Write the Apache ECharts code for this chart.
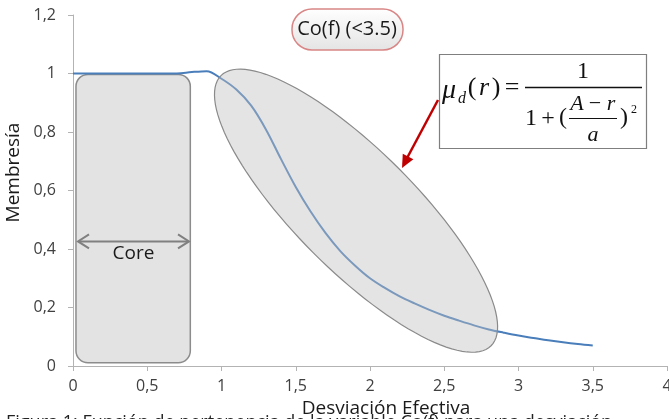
<!DOCTYPE html>
<html>
<head>
<meta charset="utf-8">
<script src="https://cdn.jsdelivr.net/npm/echarts@6/dist/echarts.min.js"></script>
<style>
  html, body { margin: 0; padding: 0; background: #fff; }
  #chart { width: 669px; height: 419px; }
</style>
</head>
<body>
<div id="chart"></div>
<script>
// values
const desviacion = [0, 0.1, 0.2, 0.3, 0.4, 0.5, 0.6, 0.7, 0.8, 0.9, 1.0, 1.1, 1.2, 1.3, 1.4, 1.5, 1.6, 1.7, 1.8, 1.9, 2.0,
  2.1, 2.2, 2.3, 2.4, 2.5, 2.6, 2.7, 2.8, 2.9, 3.0, 3.1, 3.2, 3.3, 3.4, 3.5];
const membresia = [1, 1, 1, 1, 1, 1, 1, 1, 1.005, 1.008, 0.982, 0.945, 0.89, 0.808, 0.708, 0.612, 0.528, 0.455, 0.393, 0.343, 0.30,
  0.267, 0.238, 0.214, 0.192, 0.172, 0.155, 0.139, 0.125, 0.114, 0.104, 0.096, 0.088, 0.081, 0.075, 0.07];
const xTicks = [0, 4, 0.5];     // min, max, step
const yTicks = [0, 1.2, 0.2];
// annotation anchors in data units
const coreBox = [0.02, 0.997, 0.79, 0.011];
const coreArrow = [0.027, 0.788, 0.426];
const ellipseCenter = [1.906, 0.531];

const labelFont = '"Open Sans", "Noto Sans", sans-serif';
const mathFont = '"Liberation Serif", "DejaVu Serif", serif';
const fmt = v => String(Math.round(v * 10) / 10).replace('.', ',');

const chart = echarts.init(document.getElementById('chart'));

chart.setOption({
  animation: false,
  grid: { left: 73, right: 2, top: 15, bottom: 53, outerBoundsMode: 'none' },
  xAxis: {
    type: 'value',
    min: xTicks[0], max: xTicks[1], interval: xTicks[2],
    name: 'Desviación Efectiva',
    nameLocation: 'middle',
    nameGap: 25,
    nameTextStyle: { fontFamily: labelFont, fontSize: 19, color: '#1a1a1a', padding: [0, 0, 0, 32] },
    axisLine: { lineStyle: { color: '#b3b3b3', width: 1 } },
    axisTick: { show: true, length: 5, lineStyle: { color: '#b3b3b3' } },
    axisLabel: { fontFamily: labelFont, fontSize: 16, color: '#404040', margin: 12, formatter: fmt, showMaxLabel: true, showMinLabel: true },
    splitLine: { show: false }
  },
  yAxis: {
    type: 'value',
    min: yTicks[0], max: yTicks[1], interval: yTicks[2],
    name: 'Membresía',
    nameLocation: 'middle',
    nameGap: 46,
    nameTextStyle: { fontFamily: labelFont, fontSize: 19, color: '#1a1a1a', padding: [0, 0, 0, 36] },
    axisLine: { show: true, lineStyle: { color: '#b3b3b3', width: 1 } },
    axisTick: { show: true, length: 5, lineStyle: { color: '#b3b3b3' } },
    axisLabel: { fontFamily: labelFont, fontSize: 16, color: '#404040', margin: 17, formatter: fmt },
    splitLine: { show: false }
  },
  series: [{
    type: 'line',
    smooth: 0.35,
    symbol: 'none',
    z: 5,
    lineStyle: { color: '#4a7ebb', width: 2 },
    data: desviacion.map((x, i) => [x, membresia[i]])
  }]
});

// annotations placed after the axes exist
const px = p => chart.convertToPixel({ gridIndex: 0 }, p);

const r0 = px([coreBox[0], coreBox[1]]);
const r1 = px([coreBox[2], coreBox[3]]);
const a0 = px([coreArrow[0], coreArrow[2]]);
const a1 = px([coreArrow[1], coreArrow[2]]);
const ec = px(ellipseCenter);

// rotated ellipse outline
const ellipsePts = [];
const ea = 191, eb = 60, rot = Math.PI / 4;
for (let i = 0; i < 120; i++) {
  const t = i / 120 * Math.PI * 2;
  const ux = ea * Math.cos(t), uy = eb * Math.sin(t);
  ellipsePts.push([ec[0] + ux * Math.cos(rot) - uy * Math.sin(rot), ec[1] + ux * Math.sin(rot) + uy * Math.cos(rot)]);
}

function arrowHead(tip, from, len, half) {
  const dx = tip[0] - from[0], dy = tip[1] - from[1];
  const d = Math.sqrt(dx * dx + dy * dy);
  const ux = dx / d, uy = dy / d;
  const bx = tip[0] - ux * len, by = tip[1] - uy * len;
  return [tip, [bx - uy * half, by + ux * half], [bx + uy * half, by - ux * half]];
}

function txt(text, x, y, size, opts) {
  return {
    type: 'text', x: x, y: y, z: 30,
    style: Object.assign({ text: text, font: size + 'px ' + mathFont, fill: '#111', align: 'center', verticalAlign: 'middle' }, opts || {})
  };
}
function it(text, x, y, size) {
  return txt(text, x, y, size, { font: 'italic ' + size + 'px ' + mathFont });
}

const redFrom = [438, 100], redTo = [402, 168];

chart.setOption({
  graphic: [
    // core box
    {
      type: 'rect', z: 0,
      shape: { x: r0[0], y: r0[1], width: r1[0] - r0[0], height: r1[1] - r0[1], r: 12 },
      style: { fill: '#e3e3e3', stroke: '#8c8c8c', lineWidth: 1.5 }
    },
    { type: 'line', z: 1, shape: { x1: a0[0] + 2, y1: a0[1], x2: a1[0] - 2, y2: a1[1] }, style: { stroke: '#808080', lineWidth: 2 } },
    { type: 'polyline', z: 1, shape: { points: [[a0[0] + 12, a0[1] - 7], [a0[0] + 1, a0[1]], [a0[0] + 12, a0[1] + 7]] }, style: { stroke: '#808080', lineWidth: 2, fill: null } },
    { type: 'polyline', z: 1, shape: { points: [[a1[0] - 12, a1[1] - 7], [a1[0] - 1, a1[1]], [a1[0] - 12, a1[1] + 7]] }, style: { stroke: '#808080', lineWidth: 2, fill: null } },
    {
      type: 'text', z: 2, x: (a0[0] + a1[0]) / 2, y: a0[1] + 12,
      style: { text: 'Core', font: '19px ' + labelFont, fill: '#1a1a1a', align: 'center', verticalAlign: 'middle' }
    },
    // tolerance ellipse
    {
      type: 'polygon', z: 10,
      shape: { points: ellipsePts },
      style: { fill: 'rgba(190,190,190,0.42)', stroke: '#8a8a8a', lineWidth: 1.2 }
    },
    // title pill
    {
      type: 'rect', z: 20,
      shape: { x: 292, y: 9, width: 111, height: 41, r: 20 },
      style: {
        fill: new echarts.graphic.LinearGradient(0, 0, 0, 1, [{ offset: 0, color: '#ffffff' }, { offset: 1, color: '#e4e4e4' }]),
        stroke: '#d98585', lineWidth: 1.5
      }
    },
    {
      type: 'text', z: 21, x: 347, y: 29,
      style: { text: 'Co(f) (<3.5)', font: '20px ' + labelFont, fill: '#1a1a1a', align: 'center', verticalAlign: 'middle' }
    },
    // formula box
    {
      type: 'rect', z: 20,
      shape: { x: 439.5, y: 54.5, width: 207, height: 94 },
      style: { fill: '#fff', stroke: '#7f7f7f', lineWidth: 1.2 }
    },
    it('μ', 449, 91, 28),
    it('d', 462, 99, 16),
    txt('(', 472, 88, 26),
    it('r', 484, 88, 26),
    txt(')', 496, 88, 26),
    txt('=', 512, 88, 26),
    { type: 'line', z: 30, shape: { x1: 525, y1: 87.5, x2: 642, y2: 87.5 }, style: { stroke: '#111', lineWidth: 1.5 } },
    txt('1', 583, 72, 24),
    txt('1', 531, 119, 24),
    txt('+', 548, 119, 24),
    txt('(', 563, 118, 24),
    it('A', 577, 104, 22),
    txt('−', 595, 104, 22),
    it('r', 611, 104, 22),
    { type: 'line', z: 30, shape: { x1: 569, y1: 118.5, x2: 617, y2: 118.5 }, style: { stroke: '#111', lineWidth: 1.2 } },
    it('a', 593, 135, 22),
    txt(')', 624, 118, 24),
    txt('2', 634, 110, 12),
    // red pointer
    { type: 'line', z: 30, shape: { x1: redFrom[0], y1: redFrom[1], x2: redTo[0] + 4, y2: redTo[1] - 8 }, style: { stroke: '#c00000', lineWidth: 2.5 } },
    { type: 'polygon', z: 30, shape: { points: arrowHead(redTo, redFrom, 13, 6) }, style: { fill: '#c00000' } },
    // figure caption, cut by the frame
    {
      type: 'text', z: 30, x: 6, y: 414,
      style: { text: 'Figura 1: Función de pertenencia de la variable Co(f) para una desviación', font: '18px ' + labelFont, fill: '#222', align: 'left', verticalAlign: 'top' }
    }
  ]
});
</script>
</body>
</html>
